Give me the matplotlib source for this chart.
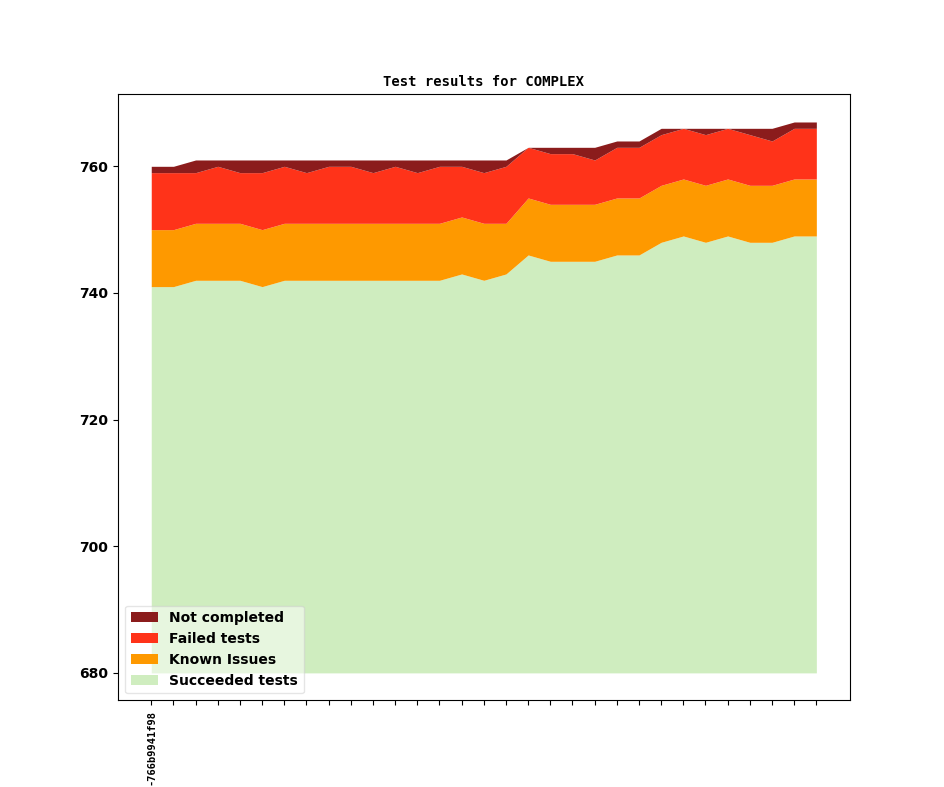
import numpy as np
import matplotlib
matplotlib.use("Agg")
import matplotlib.pyplot as plt

# cumulative levels (31 builds)
succeeded = [741, 741, 742, 742, 742, 741, 742, 742, 742, 742, 742, 742, 742, 742, 743, 742,
             743, 746, 745, 745, 745, 746, 746, 748, 749, 748, 749, 748, 748, 749, 749]
known_top = [750, 750, 751, 751, 751, 750, 751, 751, 751, 751, 751, 751, 751, 751, 752, 751,
             751, 755, 754, 754, 754, 755, 755, 757, 758, 757, 758, 757, 757, 758, 758]
failed_top = [759, 759, 759, 760, 759, 759, 760, 759, 760, 760, 759, 760, 759, 760, 760, 759,
              760, 763, 762, 762, 761, 763, 763, 765, 766, 765, 766, 765, 764, 766, 766]
total = [760, 760, 761, 761, 761, 761, 761, 761, 761, 761, 761, 761, 761, 761, 761, 761,
         761, 763, 763, 763, 763, 764, 764, 766, 766, 766, 766, 766, 766, 767, 767]
tick_labels = ["-766b9941f98"] + [""] * 30
baseline = 680

x = np.arange(len(succeeded))

fig = plt.figure(figsize=(9.44, 7.87), dpi=100)
ax = fig.add_subplot(111)

ax.fill_between(x, baseline, succeeded, color="#cfedbf", lw=0, label="Succeeded tests")
ax.fill_between(x, succeeded, known_top, color="#fe9900", lw=0, label="Known Issues")
ax.fill_between(x, known_top, failed_top, color="#ff3319", lw=0, label="Failed tests")
ax.fill_between(x, failed_top, total, color="#8b1c1c", lw=0, label="Not completed")

ax.set_title("Test results for COMPLEX", family="DejaVu Sans Mono", fontweight="bold", fontsize=10)
ax.set_xticks(x)
ax.set_xticklabels(tick_labels, rotation=90, family="DejaVu Sans Mono", fontweight="bold", fontsize=7.5)
for lab in ax.get_yticklabels():
    lab.set_fontweight("bold")

h, l = ax.get_legend_handles_labels()
ax.legend(h[::-1], l[::-1], loc="lower left", prop={"weight": "bold"}, framealpha=0.5)

fig.savefig("out.png", dpi=100)
